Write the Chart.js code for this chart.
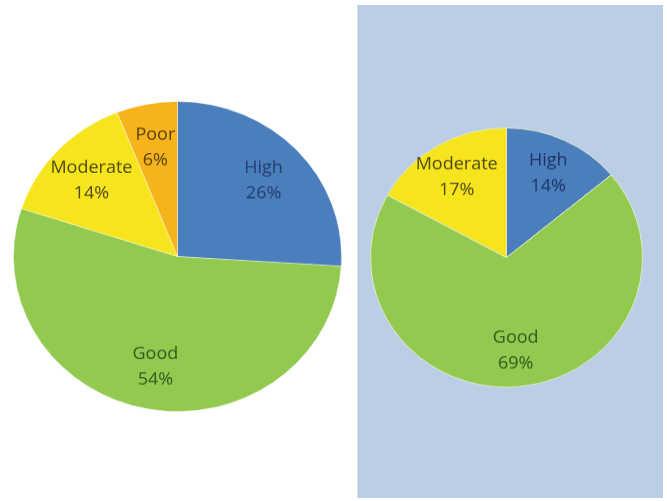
<!DOCTYPE html>
<html>
<head>
<meta charset="utf-8">
<script src="https://cdn.jsdelivr.net/npm/chart.js@4/dist/chart.umd.min.js"></script>
<style>
  body { margin:0; background:#fff; width:667px; height:501px; position:relative; overflow:hidden; }
  .panel { position:absolute; left:357px; top:5px; width:305px; height:493px; background:#bccde6; border-left:1px solid #d3deee; }
  .wrap { position:absolute; }
  #w1 { left:13px; top:92px; width:329px; height:329px; transform:scale(1,0.945); }
  #w2 { left:370px; top:121px; width:273px; height:273px; transform:scale(1,0.953); }
</style>
</head>
<body>
<div class="panel"></div>
<div class="wrap" id="w1"><canvas id="pie1"></canvas></div>
<div class="wrap" id="w2"><canvas id="pie2"></canvas></div>
<script>
const leftLabels = ['High', 'Good', 'Moderate', 'Poor'];
const leftValues = [26, 54, 14, 6];
const leftColors = ['#4a7ebd', '#92c94f', '#f6e41c', '#f5b41c'];
const leftText = ['#243f6c', '#35581f', '#4f4a12', '#5a3f0c'];

const rightLabels = ['High', 'Good', 'Moderate'];
const rightValues = [14, 69, 17];
const rightColors = ['#4a7ebd', '#92c94f', '#f6e41c'];
const rightText = ['#1f3465', '#35581f', '#4f4a12'];

const sliceLabels = {
  id: 'sliceLabels',
  afterDatasetsDraw(chart, args, opts) {
    const ctx = chart.ctx;
    const ds = chart.data.datasets[0];
    chart.getDatasetMeta(0).data.forEach((arc, i) => {
      const a = (arc.startAngle + arc.endAngle) / 2;
      const r = arc.outerRadius * 0.72;
      const x = arc.x + Math.cos(a) * r;
      const y = arc.y + Math.sin(a) * r;
      ctx.save();
      ctx.font = '18px "Open Sans"';
      ctx.fillStyle = opts.colors[i];
      ctx.textAlign = 'center';
      ctx.textBaseline = 'middle';
      ctx.fillText(chart.data.labels[i], x, y - 13);
      ctx.fillText(ds.data[i] + '%', x, y + 14);
      ctx.restore();
    });
  }
};

function makePie(id, labels, values, colors, textColors, border) {
  new Chart(document.getElementById(id), {
    type: 'pie',
    data: {
      labels: labels,
      datasets: [{
        data: values,
        backgroundColor: colors,
        borderColor: border,
        borderWidth: 1
      }]
    },
    options: {
      responsive: true,
      maintainAspectRatio: false,
      animation: false,
      layout: { padding: 0 },
      plugins: {
        legend: { display: false },
        tooltip: { enabled: false },
        sliceLabels: { colors: textColors }
      }
    },
    plugins: [sliceLabels]
  });
}

makePie('pie1', leftLabels, leftValues, leftColors, leftText, 'rgba(255,255,255,0.4)');
makePie('pie2', rightLabels, rightValues, rightColors, rightText, '#dfe9c8');
</script>
</body>
</html>
